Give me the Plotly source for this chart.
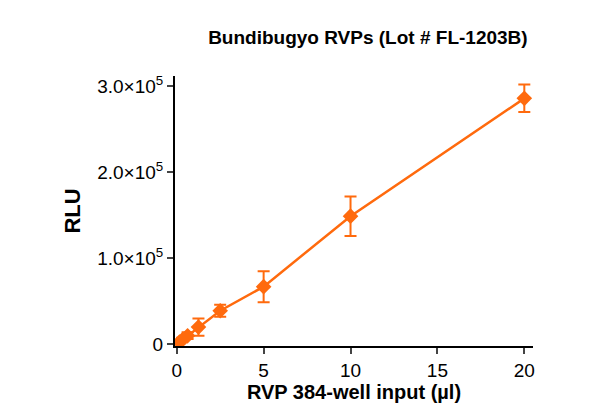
import plotly.graph_objects as go

volume = [0.156, 0.3125, 0.625, 1.25, 2.5, 5, 10, 20]
rlu = [2500, 5000, 10000, 20000, 39000, 67000, 149000, 286000]
rlu_err = [1500, 2500, 4000, 10000, 7000, 18000, 23000, 16000]

ytick_vals = [0, 100000, 200000, 300000]
ytick_text = ['0', '1.0×10<sup>5</sup>', '2.0×10<sup>5</sup>', '3.0×10<sup>5</sup>']
xtick_vals = [0, 5, 10, 15, 20]

orange = '#FF6A0D'

fig = go.Figure(go.Scatter(
    x=volume, y=rlu,
    error_y=dict(type='data', array=rlu_err, color=orange, thickness=2, width=6),
    mode='lines+markers',
    line=dict(color=orange, width=2.5),
    marker=dict(symbol='diamond', size=12, color=orange),
))

fig.update_layout(
    width=590, height=420,
    plot_bgcolor='white', paper_bgcolor='white',
    margin=dict(l=167, r=65, t=68, b=82),
    showlegend=False,
    font=dict(family='Arial, Liberation Sans', color='black'),
    title=dict(text='<b>Bundibugyo RVPs (Lot # FL-1203B)</b>', x=0.61, xanchor='center',
               y=0.93, yanchor='middle', font=dict(size=19)),
    xaxis=dict(range=[-0.1, 20.5], tickvals=xtick_vals, showline=True, linecolor='black',
               linewidth=2, ticks='outside', tickwidth=2, ticklen=6, showgrid=False,
               zeroline=False, tickfont=dict(size=19),
               title=dict(text='<b>RVP 384-well input (µl)</b>', font=dict(size=20), standoff=4)),
    yaxis=dict(range=[-2000, 312000], tickvals=ytick_vals, ticktext=ytick_text, showline=True,
               linecolor='black', linewidth=2, ticks='outside', tickwidth=2, ticklen=6,
               showgrid=False, zeroline=False, tickfont=dict(size=19),
               title=dict(text='<b>RLU</b>', font=dict(size=22), standoff=10)),
)

fig.write_html('out.html')
